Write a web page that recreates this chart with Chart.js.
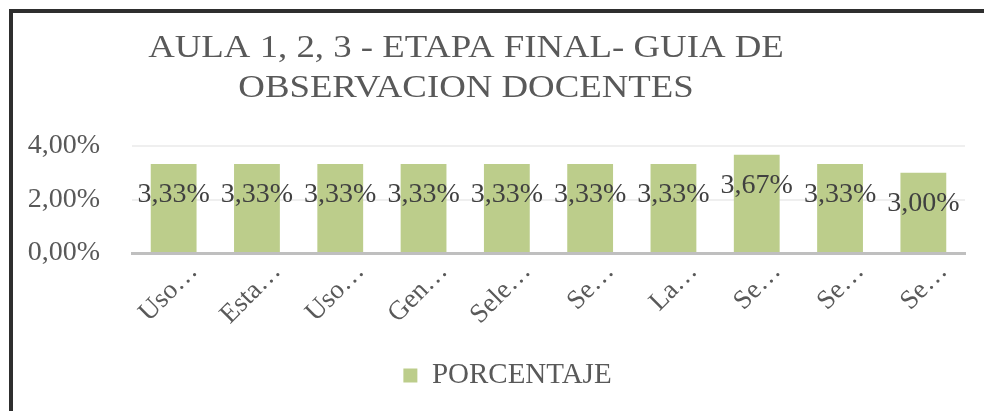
<!DOCTYPE html>
<html>
<head>
<meta charset="utf-8">
<script src="https://cdn.jsdelivr.net/npm/chart.js@4"></script>
<style>
  html, body { margin: 0; padding: 0; background: #fff; overflow: hidden; }
  #frame {
    position: absolute; left: 9px; top: 9px; width: 1100px; height: 500px;
    border-left: 4px solid #2e2e2e; border-top: 4px solid #2e2e2e;
  }
  #grafico { position: absolute; left: 0; top: 0; }
</style>
</head>
<body>
<div id="frame"></div>
<canvas id="grafico" width="984" height="411"></canvas>
<script>
// Datos del gráfico
const categorias = ['Uso…', 'Esta…', 'Uso…', 'Gen…', 'Sele…', 'Se…', 'La…', 'Se…', 'Se…', 'Se…'];
const porcentaje = [3.33, 3.33, 3.33, 3.33, 3.33, 3.33, 3.33, 3.67, 3.33, 3.00];
const ticksY = [0, 2, 4];
const tituloLineas = ['AULA 1, 2, 3 - ETAPA FINAL- GUIA DE', 'OBSERVACION DOCENTES'];

const fuente = '"Liberation Serif", "Times New Roman", serif';

function formatoPct(v) {
  return v.toFixed(2).replace('.', ',') + '%';
}

// Título dibujado a mano (centrado como en el original, un poco ancho)
const tituloPlugin = {
  id: 'tituloPlugin',
  afterLayout(chart) {
    // la leyenda del original está algo corrida a la derecha
    chart.legend.left += 25;
    chart.legend.right += 25;
  },
  afterDraw(chart) {
    const ctx = chart.ctx;
    ctx.save();
    ctx.font = '32px ' + fuente;
    ctx.fillStyle = '#595959';
    ctx.textAlign = 'center';
    ctx.textBaseline = 'alphabetic';
    ctx.translate(466, 0);
    ctx.scale(1.15, 1);
    tituloLineas.forEach(function(linea, i) {
      ctx.fillText(linea, 0, 57 + i * 40);
    });
    ctx.restore();
  }
};

// Etiquetas de datos sobre cada barra
const etiquetasPlugin = {
  id: 'etiquetasPlugin',
  afterDatasetsDraw(chart) {
    const ctx = chart.ctx;
    const meta = chart.getDatasetMeta(0);
    ctx.save();
    ctx.font = '28px ' + fuente;
    ctx.fillStyle = '#404040';
    ctx.textAlign = 'center';
    ctx.textBaseline = 'middle';
    meta.data.forEach(function(bar, i) {
      ctx.fillText(formatoPct(porcentaje[i]), bar.x, bar.y + 31);
    });
    ctx.restore();
  }
};

new Chart(document.getElementById('grafico'), {
  type: 'bar',
  data: {
    labels: categorias,
    datasets: [{
      label: 'PORCENTAJE',
      data: porcentaje,
      backgroundColor: '#bccd8b',
      borderWidth: 0,
      barPercentage: 0.55,
      categoryPercentage: 1
    }]
  },
  plugins: [tituloPlugin, etiquetasPlugin],
  options: {
    responsive: false,
    animation: false,
    layout: { padding: { left: 0, right: 19, top: 146, bottom: 11 } },
    plugins: {
      title: { display: false },
      tooltip: { enabled: false },
      legend: {
        position: 'bottom',
        labels: {
          boxWidth: 14,
          boxHeight: 14,
          padding: 10,
          color: '#595959',
          font: { family: fuente, size: 29 }
        }
      }
    },
    scales: {
      x: {
        grid: { display: false },
        border: { color: '#bfbfbf', width: 3 },
        ticks: {
          autoSkip: false,
          minRotation: 45,
          maxRotation: 45,
          labelOffset: 20,
          padding: -5,
          color: '#595959',
          font: { family: fuente, size: 27 }
        },
        afterFit: function(scale) { scale.height = 98; }
      },
      y: {
        min: 0,
        max: 4,
        afterBuildTicks: function(scale) {
          scale.ticks = ticksY.map(function(v) { return { value: v }; });
        },
        grid: { color: '#efefef', lineWidth: 2, drawTicks: false },
        border: { display: false },
        ticks: {
          padding: 32,
          color: '#595959',
          font: { family: fuente, size: 28 },
          callback: function(v) { return formatoPct(v); }
        },
        afterFit: function(scale) { scale.width = 132; }
      }
    }
  }
});
</script>
</body>
</html>
